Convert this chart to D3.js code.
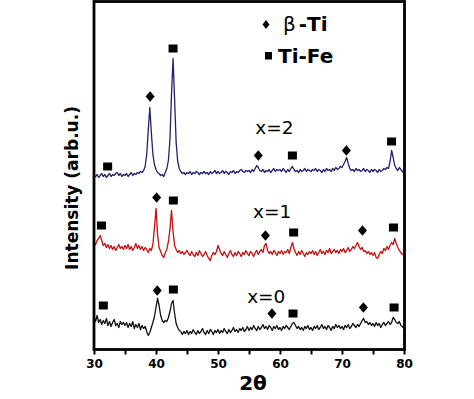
<!DOCTYPE html>
<html>
<head>
<meta charset="utf-8">
<script src="https://cdn.jsdelivr.net/npm/d3@7"></script>
<style>
body { margin: 0; background: #fff; }
svg { display: block; }
</style>
</head>
<body>
<div id="xrd"></div>
<script>
// 2-theta grid of the scans (degrees)
var thetaStart = 30;
var thetaStep = 0.25;

// intensities, one value per 0.25 deg, 30 -> 80
var scan_x0 = [
  32, 28, 34, 27, 30, 25, 29, 26, 31, 24, 28, 23, 27, 30, 24, 26, 22, 28, 25, 27,
  24, 27, 22, 26, 23, 28, 21, 25, 22, 26, 20, 24, 21, 23, 18, 14, 17, 22, 27, 33,
  42, 51, 44, 34, 29, 27, 29, 28, 32, 38, 46, 49, 36, 26, 22, 19, 18, 15, 18, 16,
  19, 15, 18, 16, 20, 17, 15, 19, 16, 18, 21, 17, 15, 19, 16, 20, 18, 15, 19, 17,
  20, 16, 19, 17, 21, 18, 16, 20, 17, 19, 22, 18, 20, 17, 21, 19, 22, 18, 20, 23,
  19, 22, 20, 24, 21, 19, 23, 20, 22, 25, 21, 23, 20, 24, 22, 19, 23, 21, 24, 20,
  22, 19, 23, 21, 24, 22, 20, 23, 26, 27, 24, 21, 23, 20, 22, 19, 23, 21, 24, 20,
  22, 19, 23, 21, 24, 20, 22, 25, 21, 23, 20, 24, 22, 19, 23, 21, 25, 22, 24, 21,
  23, 20, 24, 22, 25, 21, 23, 26, 24, 22, 25, 23, 26, 29, 31, 27, 28, 25, 27, 24,
  26, 23, 27, 24, 26, 22, 25, 27, 24, 26, 28, 25, 27, 32, 30, 27, 26, 28, 24, 23,
  21];
var scan_x1 = [
  27, 25, 29, 31, 34, 29, 24, 26, 22, 25, 21, 24, 20, 23, 19, 22, 25, 21, 23, 20,
  24, 21, 25, 20, 23, 19, 22, 26, 21, 24, 20, 23, 19, 22, 20, 17, 21, 19, 25, 42,
  61, 35, 22, 18, 14, 12, 17, 20, 28, 40, 59, 38, 24, 20, 17, 19, 16, 18, 15, 17,
  19, 16, 14, 18, 15, 13, 17, 14, 19, 16, 13, 15, 18, 14, 11, 9, 14, 17, 15, 18,
  24, 20, 16, 14, 18, 15, 12, 16, 19, 15, 13, 17, 14, 18, 16, 13, 17, 15, 19, 16,
  14, 18, 16, 13, 17, 19, 15, 18, 20, 17, 24, 26, 19, 16, 18, 15, 19, 17, 14, 18,
  16, 19, 15, 18, 17, 20, 16, 22, 27, 21, 17, 14, 18, 15, 19, 16, 13, 17, 15, 18,
  16, 19, 15, 18, 14, 17, 20, 16, 18, 15, 19, 17, 21, 16, 18, 20, 17, 19, 16, 20,
  18, 21, 17, 19, 22, 18, 20, 23, 21, 24, 27, 23, 20, 22, 18, 19, 16, 18, 15, 17,
  14, 17, 12, 11, 15, 18, 16, 21, 19, 23, 20, 24, 27, 25, 31, 26, 22, 19, 17, 15,
  16];
var scan_x2 = [
  19, 18, 20, 17, 19, 21, 18, 20, 17, 19, 21, 18, 20, 19, 21, 22, 19, 21, 18, 20,
  19, 21, 18, 20, 22, 19, 21, 20, 22, 21, 23, 22, 24, 28, 40, 64, 87, 62, 40, 30,
  25, 22, 21, 19, 20, 18, 22, 26, 34, 55, 100, 136, 95, 52, 33, 26, 23, 21, 22, 20,
  22, 21, 23, 20, 22, 21, 23, 22, 20, 22, 21, 23, 21, 22, 20, 23, 21, 22, 24, 21,
  23, 21, 22, 24, 21, 23, 22, 20, 23, 22, 24, 21, 23, 22, 24, 25, 23, 22, 24, 23,
  24, 22, 25, 23, 26, 29, 27, 24, 23, 25, 22, 24, 23, 25, 22, 24, 26, 23, 25, 24,
  25, 23, 26, 24, 22, 25, 23, 26, 28, 25, 23, 24, 22, 25, 23, 24, 26, 23, 25, 24,
  23, 25, 24, 26, 23, 25, 24, 22, 25, 23, 26, 24, 25, 23, 26, 24, 27, 25, 26, 28,
  27, 30, 33, 37, 31, 26, 24, 25, 23, 26, 24, 25, 23, 24, 26, 23, 25, 24, 22, 25,
  23, 25, 24, 22, 25, 23, 24, 26, 25, 27, 26, 33, 44, 37, 29, 26, 24, 27, 25, 23,
  21];

var scanNames = ['x=0', 'x=1', 'x=2'];
var scanOffsets = [0, 80, 155];   // vertical stacking of the patterns
var scanColors = ['#111111', '#e01c1c', '#22226a'];

// phase markers: [phase, 2theta, height above the pattern's zero]
var peaks_x0 = [['Ti-Fe', 31.5, 44], ['β-Ti', 40.2, 59], ['Ti-Fe', 42.8, 60], ['β-Ti', 58.7, 36],
                ['Ti-Fe', 62.1, 36], ['β-Ti', 73.45, 42], ['Ti-Fe', 78.4, 42]];
var peaks_x1 = [['Ti-Fe', 31.2, 44], ['β-Ti', 40.1, 72], ['Ti-Fe', 42.8, 69], ['β-Ti', 57.65, 34],
                ['Ti-Fe', 62.2, 37], ['β-Ti', 73.3, 39], ['Ti-Fe', 78.3, 42]];
var peaks_x2 = [['Ti-Fe', 32.2, 28], ['β-Ti', 39.05, 98], ['Ti-Fe', 42.75, 146], ['β-Ti', 56.5, 39],
                ['Ti-Fe', 62.0, 39], ['β-Ti', 70.7, 44], ['Ti-Fe', 78.0, 53]];

var xTicks = [30, 40, 50, 60, 70, 80];
var xTicksMinor = [35, 45, 55, 65, 75];

var scans = [scan_x0, scan_x1, scan_x2];
var peakSets = [peaks_x0, peaks_x1, peaks_x2];
// where each "x=.." label starts, in data units [2theta, height]
var nameAt = [[54.7, 47], [55.65, 52], [56.0, 61]];

var width = 474, height = 399;
var plotLeft = 94, plotRight = 404.5, plotTop = 1.5, plotBottom = 349.5;

var svg = d3.select('#xrd').append('svg')
    .attr('width', width)
    .attr('height', height);

var x = d3.scaleLinear().domain([30, 80]).range([plotLeft, plotRight - 0.5]);
var y = d3.scaleLinear().domain([0, 348]).range([plotBottom, plotTop]);

var font = '"DejaVu Sans", Verdana, sans-serif';

// traces
var line = d3.line()
    .x(function(d, i) { return x(thetaStart + i * thetaStep); })
    .y(function(d) { return y(d); });

scans.forEach(function(s, k) {
  var shifted = s.map(function(v) { return v + scanOffsets[k]; });
  svg.append('path')
      .datum(shifted)
      .attr('d', line)
      .attr('fill', 'none')
      .attr('stroke', scanColors[k])
      .attr('stroke-width', 1.3)
      .attr('stroke-linejoin', 'round');
  if (k == 1) {
    // thin dark core seen on the red scan
    svg.append('path')
        .datum(shifted)
        .attr('d', line)
        .attr('fill', 'none')
        .attr('stroke', '#2a0606')
        .attr('stroke-width', 0.4)
        .attr('stroke-opacity', 0.55);
  }
});

function diamond(cx, cy, w, h) {
  return 'M' + cx + ',' + (cy - h / 2) + 'L' + (cx + w / 2) + ',' + cy +
         'L' + cx + ',' + (cy + h / 2) + 'L' + (cx - w / 2) + ',' + cy + 'Z';
}

// phase markers
peakSets.forEach(function(set, k) {
  set.forEach(function(p) {
    var cx = x(p[1]), cy = y(p[2] + scanOffsets[k]);
    if (p[0] == 'β-Ti') {
      svg.append('path').attr('d', diamond(cx, cy, 9, 10.5)).attr('fill', '#000');
    } else {
      svg.append('rect')
          .attr('x', cx - 4.5).attr('y', cy - 4)
          .attr('width', 9).attr('height', 8)
          .attr('fill', '#000');
    }
  });
});

// x=.. labels
scanNames.forEach(function(n, k) {
  svg.append('text')
      .attr('x', x(nameAt[k][0]))
      .attr('y', y(nameAt[k][1] + scanOffsets[k]))
      .style('font-family', font)
      .style('font-size', '18.5px')
      .text(n);
});

// frame
svg.append('rect')
    .attr('x', plotLeft).attr('y', plotTop)
    .attr('width', plotRight - plotLeft).attr('height', plotBottom - plotTop)
    .attr('fill', 'none')
    .attr('stroke', '#000')
    .attr('stroke-width', 2.8);

// bottom axis, ticks outward
var xAxis = d3.axisBottom(x)
    .tickValues(xTicks.concat(xTicksMinor))
    .tickSize(5)
    .tickPadding(5)
    .tickFormat(function(d) { return xTicks.indexOf(d) >= 0 ? d : ''; });

var gx = svg.append('g')
    .attr('transform', 'translate(0,' + plotBottom + ')')
    .call(xAxis);
gx.select('.domain').remove();
gx.selectAll('line').attr('stroke-width', 2);
gx.selectAll('text')
    .style('font-family', font)
    .style('font-size', '12px')
    .style('font-weight', 'bold')
    .attr('fill', '#000');

// axis titles
svg.append('text')
    .attr('x', 253).attr('y', 390)
    .attr('text-anchor', 'middle')
    .style('font-family', font)
    .style('font-size', '20px')
    .style('font-weight', 'bold')
    .text('2θ');

svg.append('text')
    .attr('transform', 'translate(78,188) rotate(-90)')
    .attr('text-anchor', 'middle')
    .style('font-family', font)
    .style('font-size', '17px')
    .style('font-weight', 'bold')
    .text('Intensity (arb.u.)');

// legend
svg.append('path').attr('d', diamond(266, 24.5, 7, 9)).attr('fill', '#000');
var lg1 = svg.append('text')
    .attr('x', 283).attr('y', 31)
    .style('font-family', font)
    .style('font-size', '20px');
lg1.append('tspan').text('β');
lg1.append('tspan').attr('dx', 3).style('font-weight', 'bold').text('-Ti');

svg.append('rect')
    .attr('x', 265).attr('y', 52)
    .attr('width', 7).attr('height', 7.5)
    .attr('fill', '#000');
svg.append('text')
    .attr('x', 278).attr('y', 62.5)
    .style('font-family', font)
    .style('font-size', '20px')
    .style('font-weight', 'bold')
    .text('Ti-Fe');
</script>
</body>
</html>
